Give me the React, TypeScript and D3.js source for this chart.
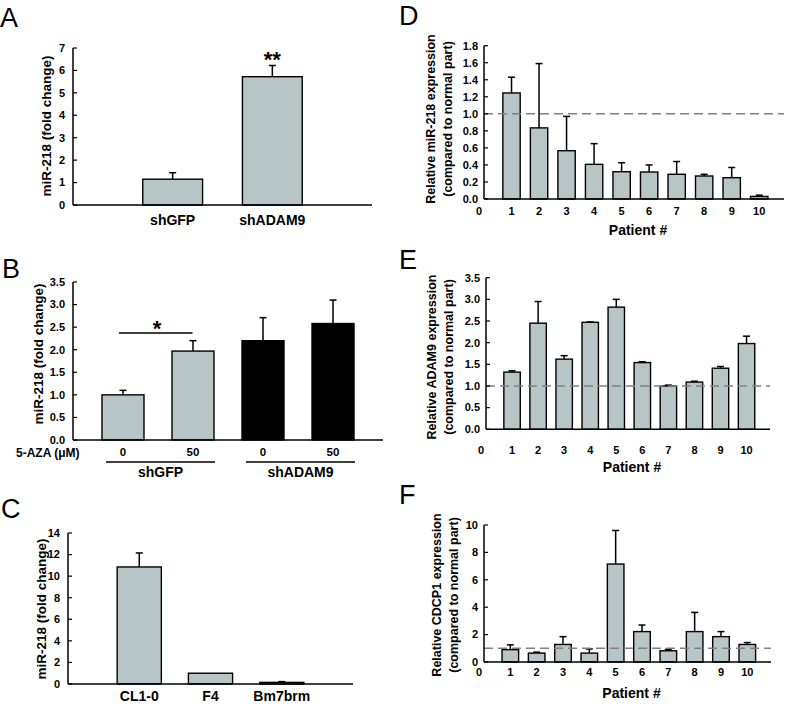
import React from "react";
import * as d3 from "d3";

const FONT = "'Liberation Sans', Arial, Helvetica, sans-serif";
const BAR_FILL = "#b8c5c7";

// ---------- Panel A ----------
const aCategories = ["shGFP", "shADAM9"];
const aValues = [1.15, 5.72];
const aErrors = [0.29, 0.5];
const aTicks = [0, 1, 2, 3, 4, 5, 6, 7];

// ---------- Panel B ----------
const bDoses = ["0", "50", "0", "50"];
const bGroupOf = ["shGFP", "shGFP", "shADAM9", "shADAM9"];
const bGroups = ["shGFP", "shADAM9"];
const bValues = [1.0, 1.97, 2.2, 2.58];
const bErrors = [0.1, 0.23, 0.51, 0.52];
const bTicks = [0, 0.5, 1.0, 1.5, 2.0, 2.5, 3.0, 3.5];

// ---------- Panel C ----------
const cCategories = ["CL1-0", "F4", "Bm7brm"];
const cValues = [10.85, 1.0, 0.15];
const cErrors = [1.3, 0, 0.07];
const cTicks = [0, 2, 4, 6, 8, 10, 12, 14];

// ---------- Panels D, E, F ----------
const patients = [1, 2, 3, 4, 5, 6, 7, 8, 9, 10];
const patientTicks = [0, 1, 2, 3, 4, 5, 6, 7, 8, 9, 10];

const dValues = [1.245, 0.835, 0.567, 0.407, 0.32, 0.317, 0.29, 0.27, 0.25, 0.03];
const dErrors = [0.185, 0.755, 0.403, 0.243, 0.106, 0.083, 0.15, 0.02, 0.12, 0.015];
const dTicks = [0, 0.2, 0.4, 0.6, 0.8, 1.0, 1.2, 1.4, 1.6, 1.8];

const eValues = [1.32, 2.45, 1.62, 2.47, 2.82, 1.54, 1.0, 1.09, 1.41, 1.98];
const eErrors = [0.03, 0.5, 0.08, 0.01, 0.18, 0.02, 0.02, 0.02, 0.04, 0.17];
const eTicks = [0, 0.5, 1.0, 1.5, 2.0, 2.5, 3.0, 3.5];

const fValues = [0.9, 0.65, 1.28, 0.65, 7.15, 2.22, 0.82, 2.22, 1.85, 1.28];
const fErrors = [0.35, 0.07, 0.57, 0.3, 2.45, 0.48, 0.1, 1.4, 0.37, 0.14];
const fTicks = [0, 2, 4, 6, 8, 10];

const referenceLevel = 1.0;

type Lin = d3.ScaleLinear<number, number>;

function YAxis({ x, y, ticks, fmt, gap = 7 }: { x: number; y: Lin; ticks: number[]; fmt: (v: number) => string; gap?: number }) {
  const [d0, d1] = y.domain();
  return (
    <g>
      <line x1={x} x2={x} y1={y(d0)} y2={y(d1)} stroke="#000" strokeWidth={1.5} />
      {ticks.map((t) => (
        <g key={t}>
          <line x1={x} x2={x + 4} y1={y(t)} y2={y(t)} stroke="#000" strokeWidth={1.2} />
          <text x={x - gap} y={y(t)} dy="0.35em" textAnchor="end" fontSize={11} fontWeight="bold" fontFamily={FONT}>
            {fmt(t)}
          </text>
        </g>
      ))}
    </g>
  );
}

function Bar({ cx, w, v, e, y, fill, cap = 7 }: { cx: number; w: number; v: number; e: number; y: Lin; fill: string; cap?: number }) {
  const top = y(v);
  const errTop = y(v + e);
  return (
    <g>
      {e > 0 && (
        <g stroke="#000" strokeWidth={1.5}>
          <line x1={cx} x2={cx} y1={top} y2={errTop} />
          <line x1={cx - cap / 2} x2={cx + cap / 2} y1={errTop} y2={errTop} />
        </g>
      )}
      <rect x={cx - w / 2} y={top} width={w} height={y(0) - top} fill={fill} stroke="#000" strokeWidth={1.4} />
    </g>
  );
}

function YLabel({ x, y, lines, size }: { x: number; y: number; lines: string[]; size: number }) {
  return (
    <text transform={`translate(${x},${y}) rotate(-90)`} textAnchor="middle" fontSize={size} fontWeight="bold" fontFamily={FONT}>
      {lines.map((l, i) => (
        <tspan key={i} x={0} dy={i === 0 ? (-(lines.length - 1) / 2) * size * 1.25 + size * 0.35 : size * 1.4}>
          {l}
        </tspan>
      ))}
    </text>
  );
}

function Letter({ x, y, t }: { x: number; y: number; t: string }) {
  return (
    <text x={x} y={y} fontSize={27} fontFamily={FONT}>
      {t}
    </text>
  );
}

const fmt1 = d3.format(".1f");
const fmt0 = d3.format("d");

function PanelA() {
  const x0 = 73, x1 = 372;
  const y = d3.scaleLinear().domain([0, 7]).range([205, 48]);
  const xb = d3.scaleBand<string>().domain(aCategories).range([x0, x1]).paddingInner(0.4).paddingOuter(0.7);
  return (
    <g>
      <Letter x={0} y={27} t="A" />
      <YLabel x={46} y={126} lines={["miR-218 (fold change)"]} size={13.5} />
      {aCategories.map((c, i) => (
        <Bar key={c} cx={xb(c)! + xb.bandwidth() / 2} w={xb.bandwidth()} v={aValues[i]} e={aErrors[i]} y={y} fill={BAR_FILL} />
      ))}
      <line x1={x0} x2={x1} y1={y(0)} y2={y(0)} stroke="#000" strokeWidth={1.5} />
      <YAxis x={x0} y={y} ticks={aTicks} fmt={fmt0} gap={8} />
      {aCategories.map((c) => (
        <text key={c} x={xb(c)! + xb.bandwidth() / 2} y={225} textAnchor="middle" fontSize={14} fontWeight="bold" fontFamily={FONT}>
          {c}
        </text>
      ))}
      <text x={xb("shADAM9")! + xb.bandwidth() / 2} y={67} textAnchor="middle" fontSize={22} fontWeight="bold" fontFamily={FONT}>
        **
      </text>
    </g>
  );
}

function PanelB() {
  const x0 = 73, x1 = 383;
  const y = d3.scaleLinear().domain([0, 3.5]).range([440, 282]);
  const idx = bValues.map((_, i) => String(i));
  const xb = d3.scaleBand<string>().domain(idx).range([x0, x1]).paddingInner(0.4).paddingOuter(0.414);
  const cx = (i: number) => xb(String(i))! + xb.bandwidth() / 2;
  const groupFill: Record<string, string> = { shGFP: BAR_FILL, shADAM9: "#000" };
  return (
    <g>
      <Letter x={2} y={278} t="B" />
      <YLabel x={38} y={354} lines={["miR-218 (fold change)"]} size={13.5} />
      {bValues.map((v, i) => (
        <Bar key={i} cx={cx(i)} w={xb.bandwidth()} v={v} e={bErrors[i]} y={y} fill={groupFill[bGroupOf[i]]} />
      ))}
      <line x1={x0} x2={x1} y1={y(0)} y2={y(0)} stroke="#000" strokeWidth={1.5} />
      <YAxis x={x0} y={y} ticks={bTicks} fmt={fmt1} gap={8} />
      {/* significance */}
      <line x1={cx(0) - 4} x2={cx(1) - 0.5} y1={333} y2={333} stroke="#000" strokeWidth={1.5} />
      <text x={(cx(0) + cx(1)) / 2 - 1} y={336} textAnchor="middle" fontSize={22} fontWeight="bold" fontFamily={FONT}>
        *
      </text>
      <text x={16} y={457} textAnchor="start" fontSize={12} fontWeight="bold" fontFamily={FONT}>
        5-AZA (μM)
      </text>
      {bDoses.map((d, i) => (
        <text key={i} x={cx(i)} y={456} textAnchor="middle" fontSize={11.5} fontWeight="bold" fontFamily={FONT}>
          {d}
        </text>
      ))}
      {bGroups.map((g) => {
        const members = bGroupOf.map((gg, i) => (gg === g ? i : -1)).filter((i) => i >= 0);
        const l = cx(members[0]) - 17;
        const r = cx(members[members.length - 1]) + 22;
        return (
          <g key={g}>
            <line x1={l} x2={r} y1={462} y2={462} stroke="#000" strokeWidth={1.5} />
            <text x={(l + r) / 2} y={477} textAnchor="middle" fontSize={14} fontWeight="bold" fontFamily={FONT}>
              {g}
            </text>
          </g>
        );
      })}
    </g>
  );
}

function PanelC() {
  const x0 = 68, x1 = 353;
  const y = d3.scaleLinear().domain([0, 14]).range([684, 533]);
  const xb = d3.scaleBand<string>().domain(cCategories).range([x0, x1]).paddingInner(0.38).paddingOuter(0.69);
  return (
    <g>
      <Letter x={1} y={518} t="C" />
      <YLabel x={41} y={609} lines={["miR-218 (fold change)"]} size={13.5} />
      {cCategories.map((c, i) => (
        <Bar key={c} cx={xb(c)! + xb.bandwidth() / 2} w={xb.bandwidth()} v={cValues[i]} e={cErrors[i]} y={y} fill={BAR_FILL} />
      ))}
      <line x1={x0} x2={x1} y1={y(0)} y2={y(0)} stroke="#000" strokeWidth={1.5} />
      <YAxis x={x0} y={y} ticks={cTicks} fmt={fmt0} gap={8} />
      {cCategories.map((c) => (
        <text key={c} x={xb(c)! + xb.bandwidth() / 2} y={701} textAnchor="middle" fontSize={14} fontWeight="bold" fontFamily={FONT}>
          {c}
        </text>
      ))}
    </g>
  );
}

function PatientPanel({
  letter, letterY, values, errors, ticks, fmt, yTop, yBottom, x0, x1, label, labelX, labelY, tickY, titleY,
}: {
  letter: string; letterY: number; values: number[]; errors: number[]; ticks: number[]; fmt: (v: number) => string;
  yTop: number; yBottom: number; x0: number; x1: number; label: string[]; labelX: number; labelY: number; tickY: number; titleY: number;
}) {
  const y = d3.scaleLinear().domain([0, ticks[ticks.length - 1]]).range([yBottom, yTop]);
  const x = d3.scaleLinear().domain([0, 10.9]).range([x0, x1]);
  const unit = x(1) - x(0);
  const w = unit * 0.63;
  return (
    <g>
      <Letter x={399} y={letterY} t={letter} />
      <YLabel x={labelX} y={labelY} lines={label} size={12.5} />
      {patients.map((p, i) => (
        <Bar key={p} cx={x(p)} w={w} v={values[i]} e={errors[i]} y={y} fill={BAR_FILL} />
      ))}
      <line x1={x0} x2={x1} y1={y(referenceLevel)} y2={y(referenceLevel)} stroke="#808080" strokeWidth={1.5} strokeDasharray="9,5" />
      <line x1={x0} x2={x1} y1={y(0)} y2={y(0)} stroke="#000" strokeWidth={1.5} />
      <YAxis x={x0} y={y} ticks={ticks} fmt={fmt} gap={6} />
      {patientTicks.map((p) => (
        <text key={p} x={p === 0 ? x(p) - 5 : x(p)} y={tickY} dy="0.35em" textAnchor="middle" fontSize={11} fontWeight="bold" fontFamily={FONT}>
          {p}
        </text>
      ))}
      <text x={(x(0) + x(10.9)) / 2 + 4} y={titleY} dy="0.35em" textAnchor="middle" fontSize={14} fontWeight="bold" fontFamily={FONT}>
        Patient #
      </text>
    </g>
  );
}

export default function App() {
  return (
    <svg width={787} height={704} style={{ position: "absolute", left: 0, top: 0, background: "#fff" }}>
      <rect width={787} height={704} fill="#fff" />
      <PanelA />
      <PanelB />
      <PanelC />
      <PatientPanel
        letter="D" letterY={25} values={dValues} errors={dErrors} ticks={dTicks} fmt={fmt1}
        yTop={45.7} yBottom={199} x0={484} x1={784} label={["Relative miR-218 expression", "(compared to normal part)"]}
        labelX={438} labelY={119} tickY={211} titleY={230}
      />
      <PatientPanel
        letter="E" letterY={269} values={eValues} errors={eErrors} ticks={eTicks} fmt={fmt1}
        yTop={277.7} yBottom={429.3} x0={486} x1={770} label={["Relative ADAM9 expression", "(compared to normal part)"]}
        labelX={439} labelY={357} tickY={450} titleY={467}
      />
      <PatientPanel
        letter="F" letterY={504} values={fValues} errors={fErrors} ticks={fTicks} fmt={fmt0}
        yTop={525} yBottom={662} x0={484} x1={771} label={["Relative CDCP1 expression", "(compared to normal part)"]}
        labelX={444} labelY={595} tickY={672} titleY={693}
      />
    </svg>
  );
}
